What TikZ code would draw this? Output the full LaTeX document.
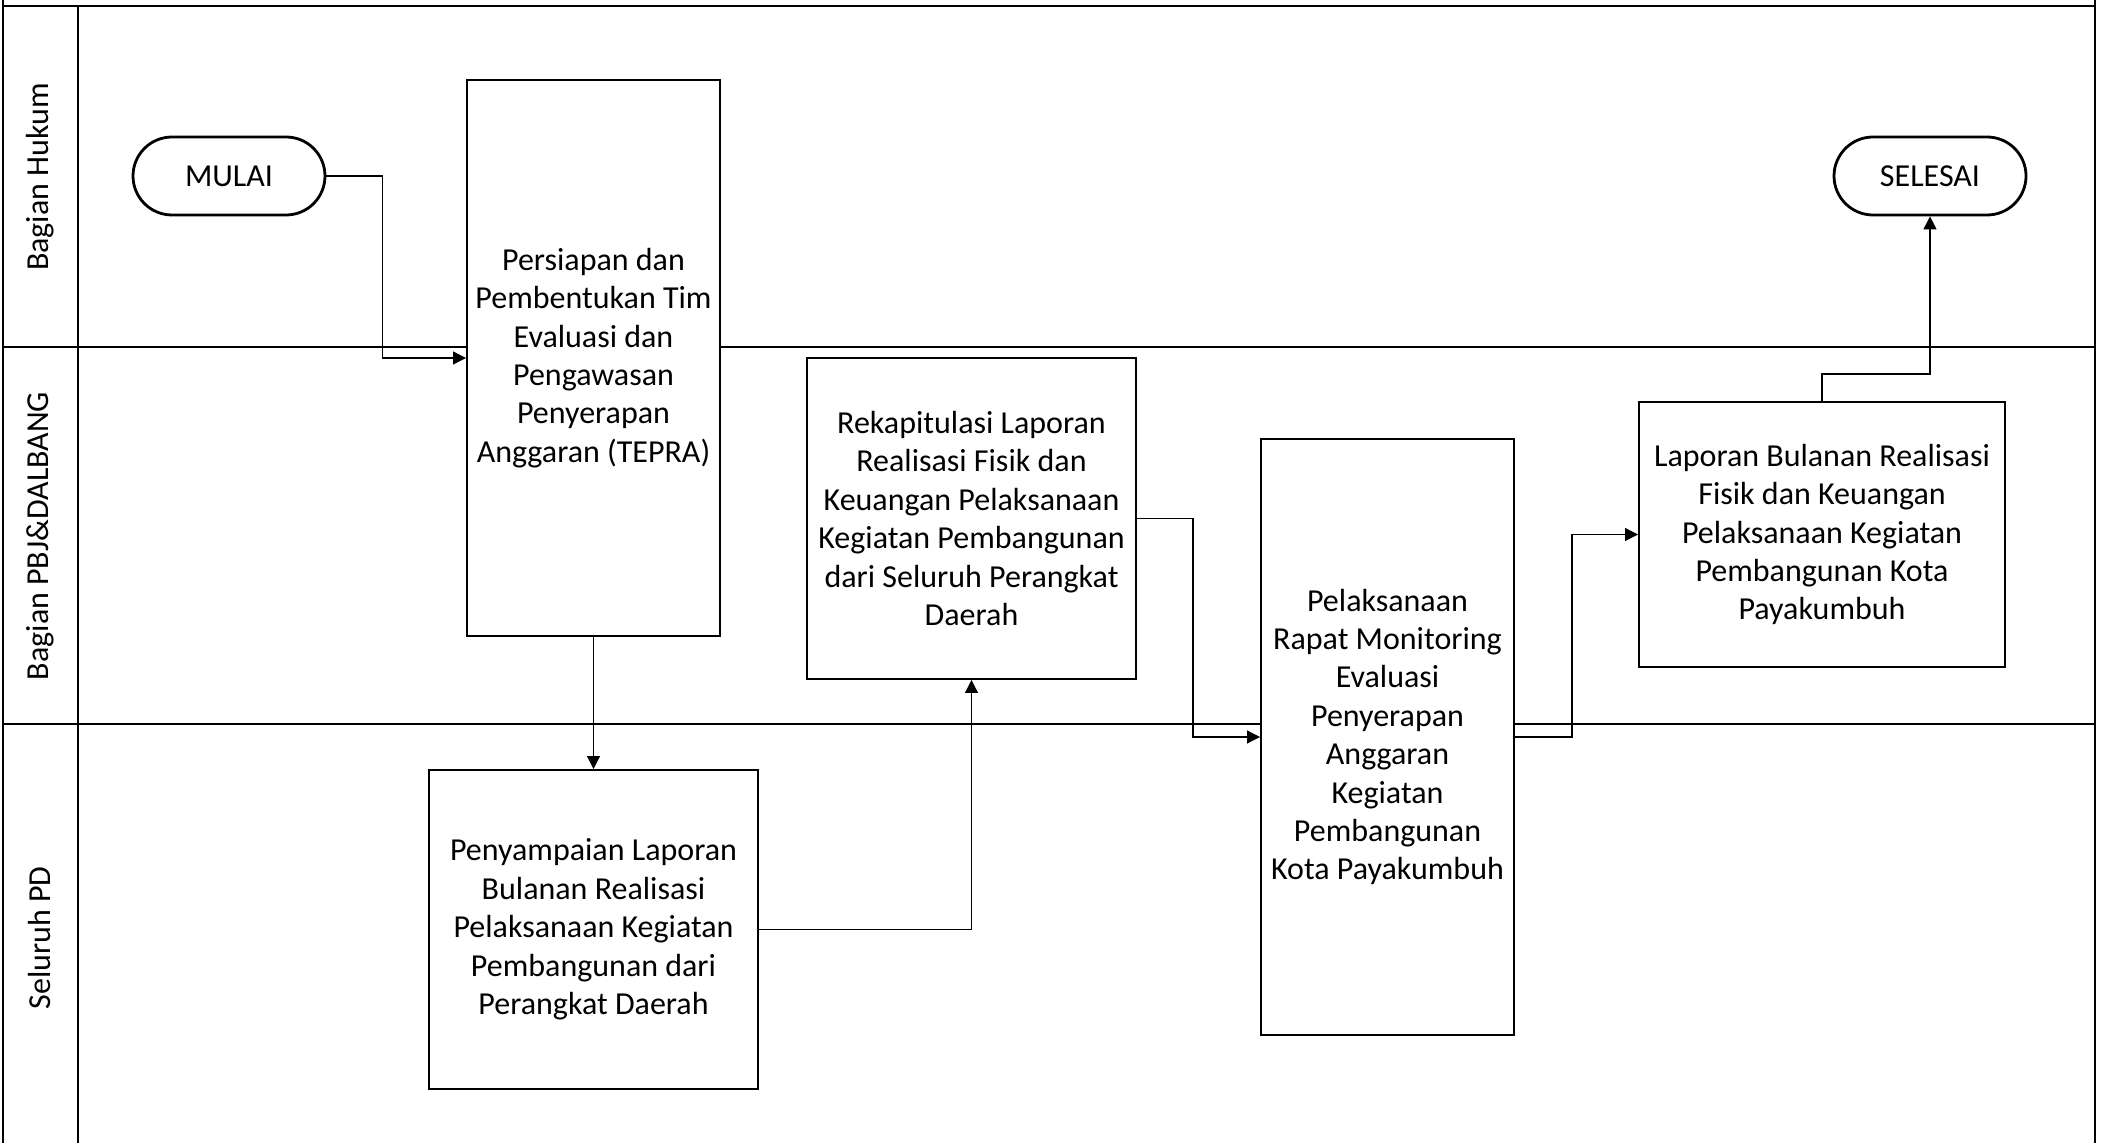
\documentclass[tikz,border=0pt]{standalone}
\usepackage{fontspec}
\setmainfont{Carlito}
\usetikzlibrary{arrows.meta}
\begin{document}
\begin{tikzpicture}[x=0.5pt,y=-0.5pt,
  lane/.style={line width=1pt},
  proc/.style={draw, fill=white, line width=1pt, inner sep=0pt, align=center, font=\fontsize{16}{19.2}\selectfont},
  term/.style={draw, fill=white, line width=1.4pt, rounded corners=19.5pt, inner sep=0pt, minimum width=96pt, minimum height=39pt, font=\fontsize{16}{19.2}\selectfont},
  conn/.style={line width=0.6pt, -{Triangle[length=6.5pt,width=6.5pt]}},
  lanelabel/.style={rotate=90, inner sep=0pt, font=\fontsize{16}{19.2}\selectfont}]
\useasboundingbox (0,0) rectangle (2103,1143);
% swimlanes
\draw[lane] (3,0) -- (3,1143);
\draw[lane] (2095,0) -- (2095,1143);
\draw[lane] (3,6) -- (2095,6);
\draw[lane] (78,6) -- (78,1143);
\draw[lane] (3,347) -- (2095,347);
\draw[lane] (3,724) -- (2095,724);
\node[lanelabel] (l1) at (40,177) {Bagian Hukum};
\node[lanelabel] (l2) at (40,536) {Bagian PBJ\&DALBANG};
\node[lanelabel] (l3) at (40,938) {Seluruh PD};
% nodes
\node[term] (mulai) at (229,176) {MULAI};
\node[term] (selesai) at (1930,176) {SELESAI};
\node[proc, minimum width=126.5pt, minimum height=278pt] (b1) at (593.5,358)
  {Persiapan dan\\Pembentukan Tim\\Evaluasi dan\\Pengawasan\\Penyerapan\\Anggaran (TEPRA)};
\node[proc, minimum width=164.5pt, minimum height=159.5pt] (b2) at (593.5,929.5)
  {Penyampaian Laporan\\Bulanan Realisasi\\Pelaksanaan Kegiatan\\Pembangunan dari\\Perangkat Daerah};
\node[proc, minimum width=164.5pt, minimum height=160.5pt] (b3) at (971.5,518.5)
  {Rekapitulasi Laporan\\Realisasi Fisik dan\\Keuangan Pelaksanaan\\Kegiatan Pembangunan\\dari Seluruh Perangkat\\Daerah};
\node[proc, minimum width=126.5pt, minimum height=298pt] (b4) at (1387.5,737)
  {Pelaksanaan\\Rapat Monitoring\\Evaluasi\\Penyerapan\\Anggaran\\Kegiatan\\Pembangunan\\Kota Payakumbuh};
\node[proc, minimum width=183pt, minimum height=132.5pt] (b5) at (1822,534.5)
  {Laporan Bulanan Realisasi\\Fisik dan Keuangan\\Pelaksanaan Kegiatan\\Pembangunan Kota\\Payakumbuh};
% connectors
\draw[conn] (mulai.east) -- ++(56,0) |- (b1.west);
\draw[conn] (b1.south) -- (b2.north);
\draw[conn] (b2.east) -| (b3.south);
\draw[conn] (b3.east) -- ++(56,0) |- (b4.west);
\draw[conn] (b4.east) -- ++(57,0) |- (b5.west);
\draw[conn] (b5.north) -- ++(0,-27) -| (selesai.south);
\end{tikzpicture}
\end{document}
